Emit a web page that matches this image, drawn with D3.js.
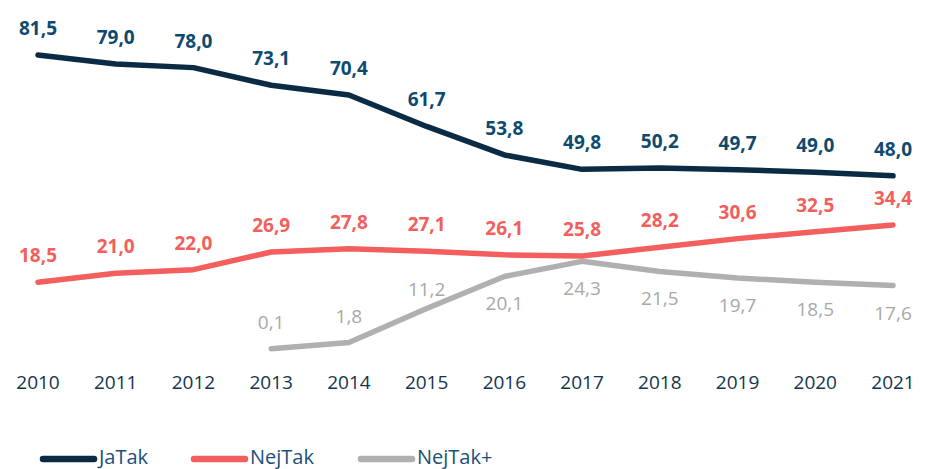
<!DOCTYPE html>
<html>
<head>
<meta charset="utf-8">
<script src="https://cdn.jsdelivr.net/npm/d3@7"></script>
<style>
  body { margin: 0; background: #fff; }
  svg { font-family: "Open Sans", sans-serif; }
</style>
</head>
<body>
<div id="graph"></div>
<script>
// years on the x axis
var years = [2010, 2011, 2012, 2013, 2014, 2015, 2016, 2017, 2018, 2019, 2020, 2021]

// series values (null = no value that year)
var jaTak = [81.5, 79.0, 78.0, 73.1, 70.4, 61.7, 53.8, 49.8, 50.2, 49.7, 49.0, 48.0]
var nejTak = [18.5, 21.0, 22.0, 26.9, 27.8, 27.1, 26.1, 25.8, 28.2, 30.6, 32.5, 34.4]
var nejTakPlus = [null, null, null, 0.1, 1.8, 11.2, 20.1, 24.3, 21.5, 19.7, 18.5, 17.6]

var seriesNames = ["JaTak", "NejTak", "NejTak+"]

var width = 928, height = 469

var svg = d3.select("#graph")
  .append("svg")
    .attr("width", width)
    .attr("height", height)

// scales
var x = d3.scalePoint()
  .domain(years)
  .range([38, 893])

var y = d3.scaleLinear()
  .domain([0, 81.5])
  .range([349, 55])

var series = [
  {name: seriesNames[0], values: jaTak, color: "#0b2b45", label: "#0e4a6e", weight: 700},
  {name: seriesNames[1], values: nejTak, color: "#f25f5c", label: "#f25f5c", weight: 700},
  {name: seriesNames[2], values: nejTakPlus, color: "#b0b0b0", label: "#a8a8a8", weight: 400}
]

var line = d3.line()
  .defined(function(d){ return d.v != null })
  .x(function(d){ return x(d.year) })
  .y(function(d){ return y(d.v) })
  .curve(d3.curveLinear)

// draw lines (grey first so others sit on top)
series.slice().reverse().forEach(function(s){
  var pts = years.map(function(yr, i){ return {year: yr, v: s.values[i]} })
  svg.append("path")
    .datum(pts)
    .attr("d", line)
    .attr("fill", "none")
    .attr("stroke", s.color)
    .attr("stroke-width", 5.5)
    .attr("stroke-linecap", "round")
    .attr("stroke-linejoin", "round")
})

// value labels
var fmt = function(v){ return d3.format(".1f")(v).replace(".", ",") }
series.forEach(function(s, si){
  var pts = years.map(function(yr, i){ return {year: yr, v: s.values[i]} })
    .filter(function(d){ return d.v != null })
  svg.selectAll(null)
    .data(pts)
    .enter()
    .append("text")
      .attr("x", function(d){ return x(d.year) })
      .attr("y", function(d){
        // grey labels go under the line once it crosses up to the red one
        if (si == 2 && d.year >= 2016) return y(d.v) + 34
        if (si == 2 && d.year == 2015) return y(d.v) - 13
        return y(d.v) - 20
      })
      .attr("text-anchor", "middle")
      .attr("font-size", 19)
      .attr("font-weight", s.weight)
      .attr("fill", s.label)
      .text(function(d){ return fmt(d.v) })
})

// x axis labels
svg.selectAll(null)
  .data(years)
  .enter()
  .append("text")
    .attr("x", function(d){ return x(d) })
    .attr("y", 389)
    .attr("text-anchor", "middle")
    .attr("font-size", 19)
    .attr("font-weight", 500)
    .attr("fill", "#13344f")
    .text(function(d){ return d })

// legend
var legendX = [40, 191, 358]
series.forEach(function(s, i){
  var g = svg.append("g").attr("transform", "translate(" + legendX[i] + ",459)")
  g.append("line")
    .attr("x1", 3).attr("x2", 54)
    .attr("y1", 0).attr("y2", 0)
    .attr("stroke", s.color)
    .attr("stroke-width", 6.5)
    .attr("stroke-linecap", "round")
  g.append("text")
    .attr("x", 59)
    .attr("y", 5)
    .attr("font-size", 20)
    .attr("fill", "#1b5079")
    .text(s.name)
})
</script>
</body>
</html>
